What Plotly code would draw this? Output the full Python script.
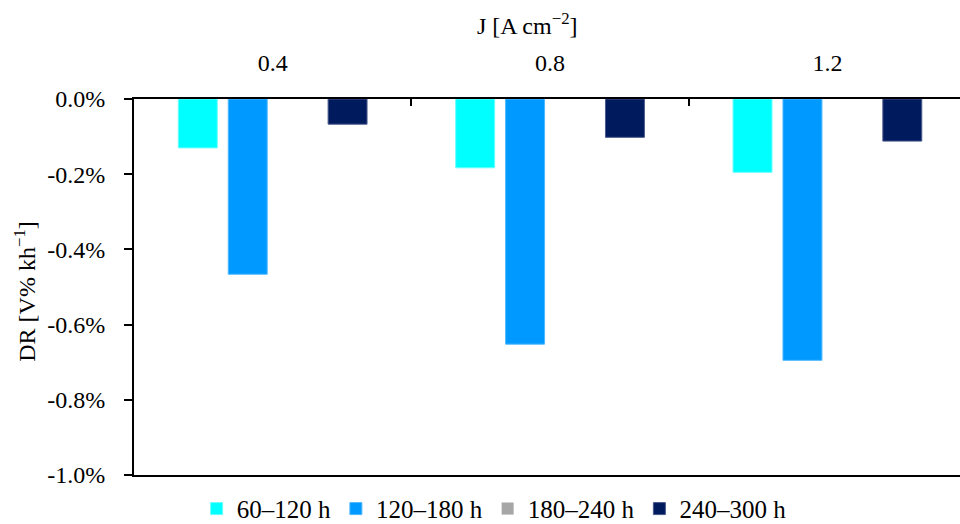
import plotly.graph_objects as go

categories = ["0.4", "0.8", "1.2"]
series_names = ["60–120 h", "120–180 h", "180–240 h", "240–300 h"]
v_60_120 = [-0.13, -0.183, -0.195]
v_120_180 = [-0.466, -0.652, -0.695]
v_180_240 = [0.0, 0.0, 0.0]
v_240_300 = [-0.067, -0.102, -0.112]
y_ticks = [0.0, -0.2, -0.4, -0.6, -0.8, -1.0]
y_tick_labels = ["0.0%", "-0.2%", "-0.4%", "-0.6%", "-0.8%", "-1.0%"]

values = [v_60_120, v_120_180, v_180_240, v_240_300]
colors = ["#00FFFF", "#0099FF", "#A6A6A6", "#001A5E"]
edge = ["#66FFFF", "#4DB8FF", "#A6A6A6", "#4A5A8C"]
edge_w = [1, 1, 0, 1]

FONT = "Liberation Serif"

fig = go.Figure()
for name, vals, c, e, w in zip(series_names, values, colors, edge, edge_w):
    fig.add_trace(go.Bar(
        x=categories, y=vals, name=name,
        marker=dict(color=c, line=dict(color=e, width=w)),
    ))

fig.update_layout(
    width=960, height=524,
    margin=dict(l=134, r=0, t=99, b=49, autoexpand=False),
    paper_bgcolor="white", plot_bgcolor="white",
    font=dict(family=FONT, size=24, color="black"),
    barmode="group", bargap=0.28, bargroupgap=0.22,
    showlegend=True,
    legend=dict(orientation="h", x=0.436, xanchor="center", y=-0.09, yanchor="middle",
                font=dict(family=FONT, size=25), bgcolor="rgba(0,0,0,0)",
                traceorder="normal"),
)

fig.update_xaxes(
    type="category", side="top", range=[-0.5, 2.478], automargin=False,
    showline=True, linecolor="black", linewidth=2, mirror=True,
    ticks="inside", tickson="boundaries", ticklen=7, tickwidth=1.5, tickcolor="black",
    showgrid=False, ticklabelstandoff=16,
    tickfont=dict(family=FONT, size=24),
)
fig.update_yaxes(
    range=[-1.0, 0.0], tickvals=y_ticks, ticktext=y_tick_labels, automargin=False,
    showline=True, linecolor="black", linewidth=2,
    ticks="outside", ticklen=8, tickwidth=1.5, tickcolor="black",
    showgrid=False, zeroline=False, ticklabelstandoff=14,
    tickfont=dict(family=FONT, size=24),
)

fig.add_annotation(text="J [A cm<sup>−2</sup>]", xref="paper", yref="paper",
                   x=0.476, y=1.2, showarrow=False, xanchor="center", yanchor="middle",
                   font=dict(family=FONT, size=24))
fig.add_annotation(text="DR [V% kh<sup>−1</sup>]", xref="paper", yref="paper",
                   x=-0.132, y=0.49, showarrow=False, textangle=-90,
                   xanchor="center", yanchor="middle",
                   font=dict(family=FONT, size=24))

fig.write_html("out.html", config={"displayModeBar": False},
               post_script="document.body.style.margin='0';document.body.style.overflow='hidden';")
